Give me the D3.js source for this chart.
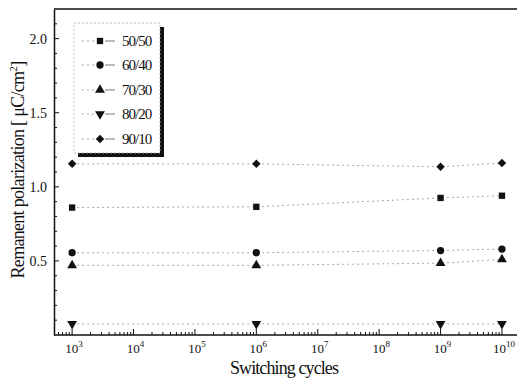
<!DOCTYPE html>
<html><head><meta charset="utf-8">
<script src="https://cdn.jsdelivr.net/npm/d3@7"></script>
<style>body{margin:0;background:#fff}svg{display:block}text{font-family:"Liberation Serif","DejaVu Serif",serif;fill:#111}</style>
</head><body><svg id="c" width="517" height="378"></svg>
<script>
const cycles = [1e3, 1e6, 1e9, 1e10];
const seriesNames = ["50/50", "60/40", "70/30", "80/20", "90/10"];
const s5050 = [0.86, 0.865, 0.925, 0.94];
const s6040 = [0.555, 0.555, 0.57, 0.58];
const s7030 = [0.47, 0.47, 0.485, 0.51];
const s8020 = [0.075, 0.075, 0.075, 0.075];
const s9010 = [1.155, 1.155, 1.135, 1.16];
const yTicks = [0.5, 1.0, 1.5, 2.0];
const xTickExps = [3, 4, 5, 6, 7, 8, 9, 10];

const seriesVals = [s5050, s6040, s7030, s8020, s9010];
const shapes = ["square", "circle", "up", "down", "diamond"];

const svg = d3.select("#c");
const L = 54, R = 517, T = 9, B = 335;
const x = d3.scaleLog().domain([Math.pow(10, 2.705), Math.pow(10, 10.245)]).range([L, R]);
const y = d3.scaleLinear().domain([0, 2.2]).range([B, T]);

svg.append("line").attr("x1", L).attr("x2", R).attr("y1", T).attr("y2", T).attr("stroke", "#111").attr("stroke-width", 1.5);

const yAxis = d3.axisLeft(y).tickValues(yTicks).tickFormat(d3.format(".1f")).tickSize(0).tickPadding(7);
const gy = svg.append("g").attr("transform", `translate(${L},0)`).call(yAxis);
gy.select(".domain").attr("stroke", "#111").attr("stroke-width", 1.5);
gy.selectAll("text").style("font-size", "14px").style("font-family", "Liberation Serif");
const yMinor = d3.range(1, 22).map(i => i / 10);
svg.append("g").selectAll("line").data(yMinor).join("line")
  .attr("x1", L).attr("x2", d => L + (Math.abs(d * 2 - Math.round(d * 2)) < 1e-6 ? 5 : 3))
  .attr("y1", d => y(d)).attr("y2", d => y(d)).attr("stroke", "#111").attr("stroke-width", 1);

const gx = svg.append("g").attr("transform", `translate(0,${B})`);
gx.append("line").attr("x1", L).attr("x2", R).attr("stroke", "#111").attr("stroke-width", 1.5);
const minor = [];
for (let e = 2; e <= 10; e++) for (let m = 1; m <= 9; m++) {
  const v = m * Math.pow(10, e);
  if (v >= x.domain()[0] && v <= x.domain()[1]) minor.push({v, major: m === 1});
}
gx.selectAll("line.t").data(minor).join("line").attr("class", "t")
  .attr("x1", d => x(d.v)).attr("x2", d => x(d.v)).attr("y1", 0).attr("y2", d => d.major ? -6 : -3)
  .attr("stroke", "#111").attr("stroke-width", 1);
const xl = gx.selectAll("text.xl").data(xTickExps).join("text").attr("class", "xl")
  .attr("x", d => x(Math.pow(10, d)) + 2).attr("y", 18).attr("text-anchor", "middle").style("font-size", "13px");
xl.append("tspan").text("10");
xl.append("tspan").attr("dy", -6).style("font-size", "9px").text(d => d);

svg.append("text").attr("x", 284).attr("y", 374).attr("text-anchor", "middle").style("font-size", "18px").style("letter-spacing", "-0.9px").text("Switching cycles");
const yt = svg.append("text").attr("transform", "translate(24,170) rotate(-90)").attr("text-anchor", "middle").style("font-size", "18px").style("letter-spacing", "-0.7px");
yt.append("tspan").text("Remanent polarization [  μC/cm");
yt.append("tspan").attr("dy", -7).style("font-size", "11px").text("2");
yt.append("tspan").attr("dy", 7).text("]");

function sym(shape) {
  if (shape === "square") return d3.symbol().type(d3.symbolSquare).size(40)();
  if (shape === "circle") return d3.symbol().type(d3.symbolCircle).size(42)();
  if (shape === "diamond") return d3.symbol().type(d3.symbolSquare).size(36)();
  return d3.symbol().type(d3.symbolTriangle).size(42)();
}
function rot(shape) {
  return shape === "down" ? " rotate(180)" : shape === "diamond" ? " rotate(45)" : "";
}

const line = d3.line().x(d => x(d[0])).y(d => y(d[1]));
seriesVals.forEach((vals, i) => {
  const pts = cycles.map((c, j) => [c, vals[j]]);
  svg.append("path").attr("d", line(pts)).attr("fill", "none").attr("stroke", "#aaa").attr("stroke-width", 1).attr("stroke-dasharray", "2,3");
  svg.append("g").selectAll("path").data(pts).join("path")
    .attr("d", sym(shapes[i]))
    .attr("transform", d => `translate(${x(d[0])},${y(d[1])})${rot(shapes[i])}`)
    .attr("fill", "#111");
});

const lg = svg.append("g");
lg.append("rect").attr("x", 78).attr("y", 27).attr("width", 86).attr("height", 130).attr("fill", "#111");
lg.append("rect").attr("x", 74).attr("y", 23).attr("width", 86).attr("height", 130).attr("fill", "#fff").attr("stroke", "#aaa").attr("stroke-dasharray", "2,2").attr("stroke-width", 0.8);
const ly = [41, 65, 90, 114, 139];
seriesNames.forEach((n, i) => {
  lg.append("line").attr("x1", 82).attr("x2", 96).attr("y1", ly[i]).attr("y2", ly[i]).attr("stroke", "#aaa").attr("stroke-dasharray", "2,3");
  lg.append("line").attr("x1", 105).attr("x2", 115).attr("y1", ly[i]).attr("y2", ly[i]).attr("stroke", "#777");
  lg.append("path").attr("d", sym(shapes[i])).attr("transform", `translate(100,${ly[i]})${rot(shapes[i])}`).attr("fill", "#111");
  lg.append("text").attr("x", 122).attr("y", ly[i] + 5).style("font-size", "15px").style("letter-spacing", "-1px").text(n);
});
</script></body></html>
